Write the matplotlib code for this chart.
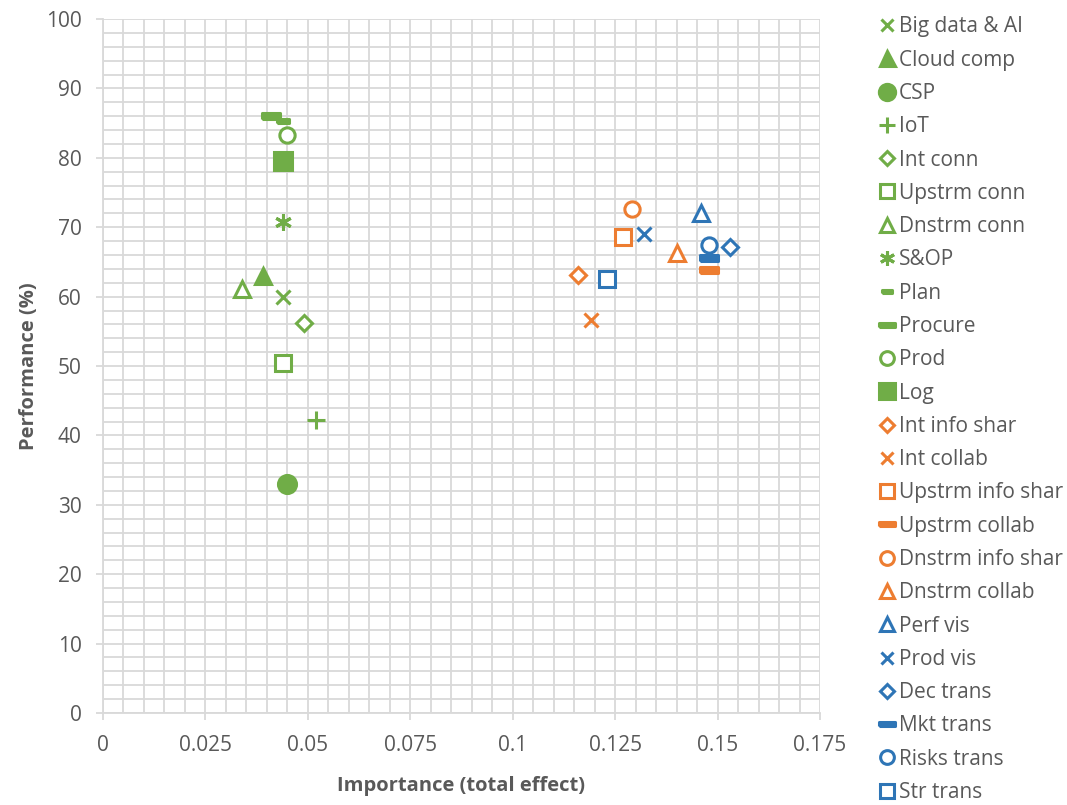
import matplotlib.pyplot as plt
from matplotlib.ticker import MultipleLocator, FuncFormatter

# values
names = ["Big data & AI", "Cloud comp", "CSP", "IoT", "Int conn", "Upstrm conn",
         "Dnstrm conn", "S&OP", "Plan", "Procure", "Prod", "Log",
         "Int info shar", "Int collab", "Upstrm info shar", "Upstrm collab",
         "Dnstrm info shar", "Dnstrm collab",
         "Perf vis", "Prod vis", "Dec trans", "Mkt trans", "Risks trans", "Str trans"]
importance = [0.044, 0.039, 0.045, 0.052, 0.049, 0.044,
              0.034, 0.044, 0.044, 0.041, 0.045, 0.044,
              0.116, 0.119, 0.127, 0.148, 0.129, 0.140,
              0.146, 0.132, 0.153, 0.148, 0.148, 0.123]
performance = [60.0, 63.0, 33.0, 42.2, 56.2, 50.5,
               61.1, 70.7, 85.3, 86.0, 83.3, 79.5,
               63.1, 56.6, 68.6, 63.9, 72.6, 66.3,
               72.0, 69.0, 67.2, 65.5, 67.5, 62.6]
groups = ["tech"] * 12 + ["info"] * 6 + ["vis"] * 6

group_colors = {"tech": "#70AD47", "info": "#ED7D31", "vis": "#2E75B6"}

bar = [(-1, -0.3), (1, -0.3), (1, 0.3), (-1, 0.3), (-1, -0.3)]
# marker, filled, size
styles = [("x", True, 10), ("^", True, 12), ("o", True, 13), ("+", True, 13),
          ("D", False, 8), ("s", False, 11), ("^", False, 11), ((6, 2, 0), True, 12),
          (bar, True, 8), (bar, True, 13), ("o", False, 11), ("s", True, 13),
          ("D", False, 8), ("x", True, 10), ("s", False, 11), (bar, True, 13),
          ("o", False, 11), ("^", False, 11),
          ("^", False, 11), ("x", True, 10), ("D", False, 8), (bar, True, 13),
          ("o", False, 11), ("s", False, 11)]

plt.rcParams['font.family'] = ['Open Sans', 'DejaVu Sans']
text_col = "#595959"
grid_col = "#D9D9D9"

fig = plt.figure(figsize=(10.67, 8.05), dpi=100)
ax = fig.add_axes([0.0965, 0.1143, 0.672, 0.862])

for name, x, y, g, (m, filled, ms) in zip(names, importance, performance, groups, styles):
    c = group_colors[g]
    ax.plot([x], [y], linestyle="none", marker=m, markersize=ms,
            markerfacecolor=c if filled else "white", markeredgecolor=c,
            markeredgewidth=2.2, label=name, zorder=3)

ax.set_xlim(0, 0.175)
ax.set_ylim(0, 100)
ax.xaxis.set_major_locator(MultipleLocator(0.025))
ax.xaxis.set_minor_locator(MultipleLocator(0.005))
ax.yaxis.set_major_locator(MultipleLocator(10))
ax.yaxis.set_minor_locator(MultipleLocator(2))
ax.xaxis.set_major_formatter(FuncFormatter(lambda v, p: "%g" % round(v, 3)))

ax.grid(True, which="both", color=grid_col, linewidth=1.3)
ax.set_axisbelow(True)
for s in ["top", "right"]:
    ax.spines[s].set_visible(False)
for s in ["left", "bottom"]:
    ax.spines[s].set_color(grid_col)
    ax.spines[s].set_linewidth(1.3)
ax.tick_params(which="major", length=5, color=grid_col, width=1.3,
               labelsize=15, labelcolor=text_col, pad=10.5)
ax.tick_params(which="minor", length=0)

ax.set_xlabel("Importance (total effect)", fontsize=14.5, fontweight="bold",
              color=text_col, labelpad=15)
ax.set_ylabel("Performance (%)", fontsize=14.5, fontweight="bold",
              color=text_col, labelpad=5)

leg = ax.legend(loc="upper left", bbox_to_anchor=(868 / 1067, 1 - 8 / 805),
                bbox_transform=fig.transFigure, frameon=False,
                fontsize=15, labelspacing=0.59, handletextpad=0.1,
                handlelength=1.0, markerscale=0.9, borderaxespad=0)
for t in leg.get_texts():
    t.set_color(text_col)

plt.savefig("out.png", dpi=100)
